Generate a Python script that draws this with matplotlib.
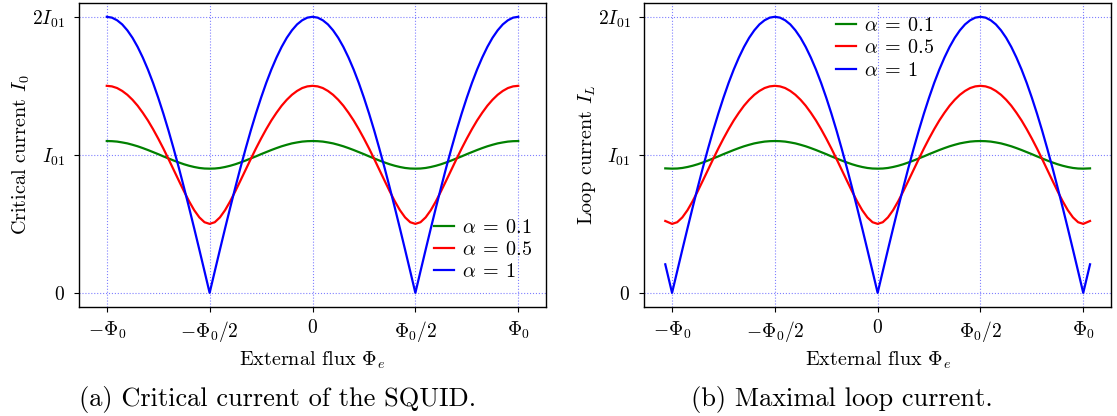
import numpy as np
import matplotlib
matplotlib.use("Agg")
import matplotlib.pyplot as plt

plt.rcParams['font.family'] = 'serif'
plt.rcParams['font.serif'] = ['cmr10', 'DejaVu Serif']
plt.rcParams['mathtext.fontset'] = 'cm'
plt.rcParams['axes.unicode_minus'] = False

# ---- data ----
flux_a = np.linspace(-1.0, 1.0, 81)          # in units of Phi_0
crit_a01 = [1.100, 1.099, 1.096, 1.090, 1.083, 1.073, 1.062, 1.049, 1.035, 1.020, 1.005, 0.989, 0.974, 0.959, 0.945, 0.932, 0.921, 0.912, 0.905, 0.901, 0.900,
            0.901, 0.905, 0.912, 0.921, 0.932, 0.945, 0.959, 0.974, 0.989, 1.005, 1.020, 1.035, 1.049, 1.062, 1.073, 1.083, 1.090, 1.096, 1.099, 1.100,
            1.099, 1.096, 1.090, 1.083, 1.073, 1.062, 1.049, 1.035, 1.020, 1.005, 0.989, 0.974, 0.959, 0.945, 0.932, 0.921, 0.912, 0.905, 0.901, 0.900,
            0.901, 0.905, 0.912, 0.921, 0.932, 0.945, 0.959, 0.974, 0.989, 1.005, 1.020, 1.035, 1.049, 1.062, 1.073, 1.083, 1.090, 1.096, 1.099, 1.100]
crit_a05 = [1.500, 1.496, 1.484, 1.463, 1.435, 1.399, 1.356, 1.305, 1.249, 1.186, 1.118, 1.046, 0.970, 0.892, 0.814, 0.737, 0.664, 0.599, 0.547, 0.512, 0.500,
            0.512, 0.547, 0.599, 0.664, 0.737, 0.814, 0.892, 0.970, 1.046, 1.118, 1.186, 1.249, 1.305, 1.356, 1.399, 1.435, 1.463, 1.484, 1.496, 1.500,
            1.496, 1.484, 1.463, 1.435, 1.399, 1.356, 1.305, 1.249, 1.186, 1.118, 1.046, 0.970, 0.892, 0.814, 0.737, 0.664, 0.599, 0.547, 0.512, 0.500,
            0.512, 0.547, 0.599, 0.664, 0.737, 0.814, 0.892, 0.970, 1.046, 1.118, 1.186, 1.249, 1.305, 1.356, 1.399, 1.435, 1.463, 1.484, 1.496, 1.500]
crit_a1 = [2.000, 1.994, 1.975, 1.945, 1.902, 1.848, 1.782, 1.705, 1.618, 1.521, 1.414, 1.299, 1.176, 1.045, 0.908, 0.765, 0.618, 0.467, 0.313, 0.157, 0.000,
           0.157, 0.313, 0.467, 0.618, 0.765, 0.908, 1.045, 1.176, 1.299, 1.414, 1.521, 1.618, 1.705, 1.782, 1.848, 1.902, 1.945, 1.975, 1.994, 2.000,
           1.994, 1.975, 1.945, 1.902, 1.848, 1.782, 1.705, 1.618, 1.521, 1.414, 1.299, 1.176, 1.045, 0.908, 0.765, 0.618, 0.467, 0.313, 0.157, 0.000,
           0.157, 0.313, 0.467, 0.618, 0.765, 0.908, 1.045, 1.176, 1.299, 1.414, 1.521, 1.618, 1.705, 1.782, 1.848, 1.902, 1.945, 1.975, 1.994, 2.000]

flux_b = np.concatenate([[-1.033], np.linspace(-1.0, 1.0, 81), [1.033]])
loop_a01 = [0.902,
            0.900, 0.901, 0.905, 0.912, 0.921, 0.932, 0.945, 0.959, 0.974, 0.989, 1.005, 1.020, 1.035, 1.049, 1.062, 1.073, 1.083, 1.090, 1.096, 1.099, 1.100,
            1.099, 1.096, 1.090, 1.083, 1.073, 1.062, 1.049, 1.035, 1.020, 1.005, 0.989, 0.974, 0.959, 0.945, 0.932, 0.921, 0.912, 0.905, 0.901, 0.900,
            0.901, 0.905, 0.912, 0.921, 0.932, 0.945, 0.959, 0.974, 0.989, 1.005, 1.020, 1.035, 1.049, 1.062, 1.073, 1.083, 1.090, 1.096, 1.099, 1.100,
            1.099, 1.096, 1.090, 1.083, 1.073, 1.062, 1.049, 1.035, 1.020, 1.005, 0.989, 0.974, 0.959, 0.945, 0.932, 0.921, 0.912, 0.905, 0.901, 0.900,
            0.902]
loop_a05 = [0.521,
            0.500, 0.512, 0.547, 0.599, 0.664, 0.737, 0.814, 0.892, 0.970, 1.046, 1.118, 1.186, 1.249, 1.305, 1.356, 1.399, 1.435, 1.463, 1.484, 1.496, 1.500,
            1.496, 1.484, 1.463, 1.435, 1.399, 1.356, 1.305, 1.249, 1.186, 1.118, 1.046, 0.970, 0.892, 0.814, 0.737, 0.664, 0.599, 0.547, 0.512, 0.500,
            0.512, 0.547, 0.599, 0.664, 0.737, 0.814, 0.892, 0.970, 1.046, 1.118, 1.186, 1.249, 1.305, 1.356, 1.399, 1.435, 1.463, 1.484, 1.496, 1.500,
            1.496, 1.484, 1.463, 1.435, 1.399, 1.356, 1.305, 1.249, 1.186, 1.118, 1.046, 0.970, 0.892, 0.814, 0.737, 0.664, 0.599, 0.547, 0.512, 0.500,
            0.521]
loop_a1 = [0.207,
           0.000, 0.157, 0.313, 0.467, 0.618, 0.765, 0.908, 1.045, 1.176, 1.299, 1.414, 1.521, 1.618, 1.705, 1.782, 1.848, 1.902, 1.945, 1.975, 1.994, 2.000,
           1.994, 1.975, 1.945, 1.902, 1.848, 1.782, 1.705, 1.618, 1.521, 1.414, 1.299, 1.176, 1.045, 0.908, 0.765, 0.618, 0.467, 0.313, 0.157, 0.000,
           0.157, 0.313, 0.467, 0.618, 0.765, 0.908, 1.045, 1.176, 1.299, 1.414, 1.521, 1.618, 1.705, 1.782, 1.848, 1.902, 1.945, 1.975, 1.994, 2.000,
           1.994, 1.975, 1.945, 1.902, 1.848, 1.782, 1.705, 1.618, 1.521, 1.414, 1.299, 1.176, 1.045, 0.908, 0.765, 0.618, 0.467, 0.313, 0.157, 0.000,
           0.207]

series_labels = [r'$\alpha\:=\:0.1$', r'$\alpha\:=\:0.5$', r'$\alpha\:=\:1$']
series_colors = ['green', 'red', 'blue']
xtick_vals = [-1.0, -0.5, 0.0, 0.5, 1.0]
xtick_labels = [r'$-\Phi_0$', r'$-\Phi_0/2$', r'$0$', r'$\Phi_0/2$', r'$\Phi_0$']
ytick_vals = [0, 1, 2]
ytick_labels = [r'$0$', r'$I_{01}$', r'$2I_{01}$']

W, H = 1117, 416
fig = plt.figure(figsize=(W / 100, H / 100), dpi=100)
ax1 = fig.add_axes([79 / W, 1 - 306.7 / H, 467 / W, 303.7 / H])
ax2 = fig.add_axes([644.3 / W, 1 - 306.7 / H, 466.7 / W, 303.7 / H])

FS_TICK = 14
FS_LAB = 14.5
FS_LEG = 14.5

def style(ax, ylabel):
    ax.set_xticks(xtick_vals)
    ax.set_xticklabels(xtick_labels)
    ax.set_yticks(ytick_vals)
    ax.set_yticklabels(ytick_labels)
    ax.tick_params(axis='x', labelsize=FS_TICK, pad=5.5)
    ax.tick_params(axis='y', labelsize=FS_TICK, pad=6.5)
    ax.set_xlim(-1.135, 1.135)
    ax.set_ylim(-0.1, 2.1)
    ax.grid(True, linestyle=':', color='blue', alpha=0.5, linewidth=0.8)
    ax.set_xlabel(r'External flux $\Phi_e$', fontsize=FS_LAB, labelpad=4)
    ax.set_ylabel(ylabel, fontsize=FS_LAB, labelpad=0)
    for s in ax.spines.values():
        s.set_linewidth(1.0)

for ys, lab, c in zip([crit_a01, crit_a05, crit_a1], series_labels, series_colors):
    ax1.plot(flux_a, ys, color=c, lw=1.6, label=lab)
for ys, lab, c in zip([loop_a01, loop_a05, loop_a1], series_labels, series_colors):
    ax2.plot(flux_b, ys, color=c, lw=1.6, label=lab)

style(ax1, r'Critical current $I_0$')
style(ax2, r'Loop current $I_L$')

ax1.legend(loc='lower right', bbox_to_anchor=(0.97, 0.085), frameon=False,
           fontsize=FS_LEG, handlelength=1.0, handletextpad=0.4, labelspacing=0.2,
           borderaxespad=0, borderpad=0)
ax2.legend(loc='upper left', bbox_to_anchor=(0.411, 0.953), frameon=False,
           fontsize=FS_LEG, handlelength=1.0, handletextpad=0.4, labelspacing=0.2,
           borderaxespad=0, borderpad=0)

fig.text(278 / W, 1 - 406 / H, '(a) Critical current of the SQUID.', ha='center', va='baseline', fontsize=19)
fig.text(842 / W, 1 - 406 / H, '(b) Maximal loop current.', ha='center', va='baseline', fontsize=19)

fig.savefig('out.png', dpi=100)
